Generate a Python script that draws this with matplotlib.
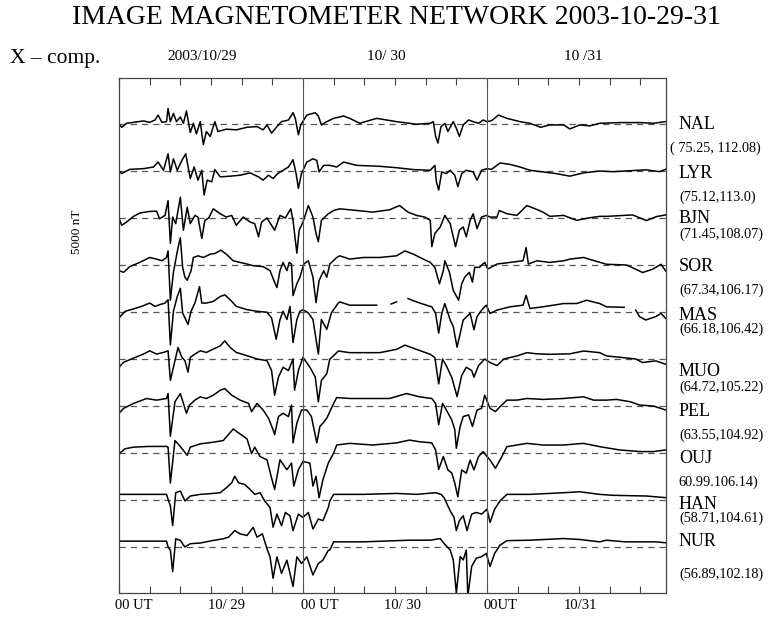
import numpy as np
import matplotlib.pyplot as plt

plt.rcParams['font.family'] = ['Liberation Serif', 'DejaVu Serif']

W, H = 773, 623
nan = float('nan')

stations = ["NAL", "LYR", "BJN", "SOR", "MAS", "MUO", "PEL", "OUJ", "HAN", "NUR"]
station_coords = ["( 75.25, 112.08)", "(75.12,113.0)", "(71.45,108.07)", "(67.34,106.17)",
                  "(66.18,106.42)", "(64.72,105.22)", "(63.55,104.92)", "60.99.106.14)",
                  "(58.71,104.61)", "(56.89,102.18)"]

# X-component deviation (nT) from the quiet level, as (hours since 2003-10-29 00 UT, nT)
nal = [(0, 0), (0.35, -140), (1.0, 30), (1.9, 70), (3.2, 130), (4.0, 70), (4.7, 170), (5.1, 380),
       (5.6, 70), (6.2, 100), (6.4, 660), (6.7, 100), (7.1, 450), (7.5, 100), (8.0, 300), (8.4, 30),
       (8.8, 560), (9.3, -360), (9.7, 30), (10.1, -420), (10.6, 100), (11.0, -880), (11.4, -320),
       (11.9, -530), (12.5, 100), (12.9, -320), (14.0, -220), (15.3, -250), (16.7, -140), (18.0, -110),
       (18.8, -250), (19.3, -40), (19.9, -390), (20.6, -110), (21.2, 100), (22.1, 170), (22.7, 480),
       (23.0, 240), (23.4, -460), (23.7, -40), (24.5, 380), (25.6, 480), (26.0, 340), (26.4, -40),
       (27.1, 100), (28.0, 240), (29.3, 340), (30.1, 240), (31.4, 30), (33.6, 240), (36.2, 100),
       (38.8, -10), (40.6, 30), (41.0, 100), (41.3, -530), (41.6, -810), (42.0, -110), (42.5, 30),
       (42.9, -320), (43.6, 100), (44.0, -180), (44.4, -530), (44.9, -40), (45.6, 170), (46.2, 100),
       (46.9, 30), (47.5, 170), (48.0, 100), (48.6, 140), (49.5, 380), (50.6, 240), (52.3, 100),
       (53.6, 30), (55.0, -140), (56.2, -40), (58.0, -40), (58.8, -210), (60.1, -40), (61.4, -80),
       (62.7, 30), (65.3, 60), (68.0, 60), (69.7, 30), (71.3, 100)]
lyr = [(0, 0), (0.35, -110), (1.4, 70), (3.2, 100), (4.5, 170), (5.1, 380), (5.8, 30), (6.4, 730),
       (6.7, -40), (7.1, 520), (7.6, 30), (8.2, 450), (8.7, 730), (9.3, -320), (9.8, 170), (10.3, -390),
       (10.8, 30), (11.1, -1020), (11.5, -390), (12.1, -460), (12.5, 60), (13.2, -250), (14.5, -220),
       (15.8, -180), (17.1, -80), (18.2, -250), (18.8, -390), (19.5, -180), (20.1, -320), (20.7, -110),
       (21.4, 30), (22.1, 170), (22.7, 480), (23.1, -110), (23.4, -740), (23.8, -110), (24.5, 380),
       (25.3, 520), (25.8, 450), (26.1, -40), (26.7, 240), (27.5, 240), (28.4, 170), (29.3, 380),
       (31.0, 240), (34.0, 200), (36.2, 140), (38.4, 60), (40.6, 30), (41.2, 240), (41.4, -460),
       (41.7, -810), (42.1, -40), (42.7, -110), (43.2, 30), (43.8, -180), (44.2, -670), (44.7, -110),
       (45.3, 30), (46.2, -40), (46.7, -390), (47.3, 30), (48.0, 100), (48.6, 70), (49.7, 340),
       (51.0, 280), (52.3, 170), (53.6, 30), (55.3, -40), (57.0, -110), (58.8, -220), (60.6, -80),
       (62.7, 0), (64.4, -30), (68.8, 50), (70.5, -30), (71.3, 70)]
bjn = [(0, 0), (0.35, -310), (1.0, -170), (1.9, 70), (2.7, 210), (4.0, 280), (4.9, 290), (5.3, -30),
       (6.0, 110), (6.4, 740), (6.7, -1080), (7.0, 40), (7.4, -240), (8.0, 880), (8.4, -520), (8.9, 460),
       (9.3, -240), (9.9, 110), (10.3, 40), (10.8, -870), (11.2, -100), (11.7, 0), (12.3, 390),
       (13.2, 180), (14.0, 40), (14.7, 110), (15.3, -310), (16.2, 40), (17.1, -170), (17.7, -240),
       (18.2, -800), (18.6, -170), (19.3, 0), (19.9, -310), (20.3, -520), (21.0, 110), (21.7, 0),
       (22.4, 390), (22.7, -100), (23.2, -1500), (23.5, -520), (24.0, -170), (24.7, 530), (25.3, 40),
       (25.7, -660), (26.0, -1010), (26.4, -100), (27.3, 180), (28.0, 320), (28.8, 390), (31.0, 320),
       (33.1, 250), (35.3, 350), (36.6, 530), (37.7, 250), (38.8, 110), (39.9, 40), (40.6, -100),
       (40.8, -1220), (41.2, -660), (41.9, -380), (42.5, 110), (43.2, -240), (43.9, -1220),
       (44.4, -520), (44.9, -380), (45.3, -800), (45.8, -100), (46.2, 180), (46.7, -450), (47.3, 40),
       (47.9, 110), (48.4, 40), (49.3, 40), (49.6, 320), (50.6, 180), (51.9, 110), (53.2, 530),
       (54.3, 390), (55.3, 250), (56.2, 70), (58.0, 110), (59.7, -100), (61.4, 10), (62.7, 70),
       (63.6, 70), (67.0, 130), (68.8, -110), (70.1, 60), (71.3, 130)]
sor = [(0, -240), (0.6, -310), (1.4, -70), (2.7, 110), (4.0, 320), (4.9, 250), (5.6, 180), (6.2, 320),
       (6.4, 600), (6.7, -1500), (7.1, -310), (7.7, 740), (8.0, 1160), (8.3, -100), (8.6, -520),
       (8.9, -650), (9.4, -240), (9.7, 320), (10.3, 390), (11.0, 320), (11.9, 460), (12.5, 490),
       (13.3, 630), (14.0, 460), (14.9, 180), (15.8, 110), (16.7, 40), (17.5, -30), (18.8, -70),
       (19.7, -240), (20.2, -660), (20.6, -960), (21.0, -240), (21.4, 110), (21.9, -240), (22.2, 110),
       (22.5, 40), (22.7, -1300), (23.2, -800), (23.6, -520), (24.1, 40), (24.7, 180), (25.3, -520),
       (25.7, -1600), (26.1, -660), (26.7, -240), (27.1, -520), (27.5, 40), (28.4, 320), (28.8, 390),
       (30.1, 250), (31.9, 320), (34.0, 320), (36.2, 390), (37.3, 600), (38.4, 460), (39.7, 250),
       (40.6, 110), (41.2, -100), (41.8, -800), (42.3, -240), (42.5, 180), (43.1, -310), (43.6, -1080),
       (44.3, -1500), (44.7, -800), (45.1, -520), (45.7, -310), (46.1, -730), (46.4, -100),
       (47.0, -100), (47.7, 110), (48.1, -170), (49.3, 40), (51.0, 110), (52.7, 180), (53.1, 740),
       (53.4, 40), (54.5, 180), (56.2, 110), (58.0, 180), (58.8, 250), (60.6, 320), (61.4, 240),
       (63.6, 30), (66.2, 0), (67.4, -180), (68.3, -320), (69.6, -180), (70.7, 30), (71.3, -250)]
mas = [(0, -250), (0.8, 30), (1.9, 130), (3.2, 270), (4.0, 380), (4.7, 240), (5.3, 310), (6.0, 380),
       (6.4, 520), (6.7, -1400), (7.1, 30), (7.6, 660), (8.0, 1010), (8.3, -40), (8.7, -320), (9.0, -530),
       (9.4, 30), (9.9, 380), (10.5, 1080), (10.8, 380), (11.4, 380), (12.3, 450), (13.2, 660),
       (13.8, 730), (14.5, 520), (15.3, 240), (16.7, 100), (18.0, 30), (19.3, -10), (19.9, -250),
       (20.5, -1160), (21.0, -320), (21.4, 30), (21.9, -320), (22.3, 240), (22.7, -1300), (23.2, -320),
       (23.6, 30), (24.0, 100), (24.7, -40), (25.3, -320), (26.0, -1790), (26.4, -320), (27.1, -740),
       (27.7, -40), (28.6, 380), (28.8, 430), (30.1, 290), (31.9, 290), (33.6, 290), (34.5, nan),
       (35.5, 340), (36.2, 430), (37.0, nan), (37.7, 570), (38.8, 430), (40.1, 290), (40.8, 220),
       (41.3, -60), (41.7, -900), (42.1, -60), (42.5, 360), (43.2, -340), (43.6, -620), (44.1, -1500),
       (44.9, -340), (45.8, -60), (46.3, -760), (46.7, -200), (47.3, 80), (47.9, 290), (48.4, -60),
       (49.3, 80), (51.0, 220), (52.7, 290), (53.1, 710), (53.6, 150), (55.3, 220), (58.0, 360),
       (59.7, 360), (61.0, 500), (62.7, 360), (63.6, 220), (65.9, 200), (66.6, nan), (67.4, 80),
       (67.9, -200), (68.7, -340), (70.0, -200), (70.7, -60), (71.3, -270)]
muo = [(0, -350), (0.6, -140), (1.9, 40), (3.2, 210), (4.0, 350), (4.9, 210), (5.8, 280), (6.4, 350),
       (6.7, -910), (7.2, -210), (7.7, 490), (8.2, 70), (8.6, -70), (9.0, -560), (9.3, 70), (9.9, 210),
       (10.6, 350), (11.4, 280), (12.3, 420), (13.2, 560), (13.8, 770), (14.5, 490), (15.3, 280),
       (16.7, 140), (18.0, 0), (19.3, -70), (19.9, -490), (20.3, -1540), (20.8, -770), (21.4, -350),
       (22.1, -490), (22.7, 0), (22.9, -1330), (23.4, -490), (24.0, 70), (24.9, -350), (25.6, -770),
       (26.0, -1820), (26.4, -910), (27.1, -630), (27.5, 0), (28.0, 140), (28.6, 340), (30.1, 270),
       (31.9, 270), (34.0, 270), (36.2, 410), (37.3, 590), (38.8, 410), (40.6, 200), (41.2, 60),
       (41.7, -1060), (42.2, 0), (42.7, -290), (43.4, -780), (44.1, -1600), (44.7, -700), (45.3, -350),
       (46.0, -490), (46.3, -770), (46.9, -280), (47.7, 0), (48.4, -150), (49.3, -280), (50.2, 0),
       (51.9, 130), (53.2, 270), (54.5, 220), (56.2, 200), (58.8, 220), (60.6, 340), (62.7, 270),
       (63.6, 130), (65.7, 60), (67.4, 0), (68.3, -150), (70.0, -80), (71.3, -220)]
pel = [(0, -310), (0.6, -100), (1.9, 110), (3.6, 320), (4.9, 250), (6.2, 320), (6.4, 530), (6.7, -1290),
       (7.3, 180), (8.0, 530), (8.4, 110), (8.8, -310), (9.2, 40), (9.9, 250), (10.6, 390), (11.4, 320),
       (12.3, 460), (13.2, 670), (13.8, 740), (14.7, 460), (15.8, 250), (16.9, 110), (17.3, -240),
       (18.0, 110), (18.8, -170), (19.5, -520), (20.1, -1010), (20.3, -1220), (20.8, -450), (21.4, -310),
       (22.1, -450), (22.5, 40), (22.7, -1570), (23.2, -730), (23.8, -170), (24.5, -170), (25.1, -450),
       (25.8, -1570), (26.2, -870), (26.6, -730), (27.1, -520), (28.0, 110), (28.4, 360), (30.1, 320),
       (32.7, 320), (35.3, 320), (37.5, 530), (39.2, 390), (40.8, 320), (41.3, 110), (41.7, -800),
       (42.2, 110), (42.7, -170), (43.4, -590), (43.8, -1010), (44.0, -1800), (44.5, -870), (44.9, -450),
       (45.6, -380), (46.1, -870), (46.7, -170), (47.3, -100), (47.7, 460), (48.4, -100), (49.1, -240),
       (49.7, -30), (50.6, 250), (51.9, 250), (53.2, 320), (55.3, 280), (58.0, 320), (60.6, 390),
       (61.9, 250), (63.6, 250), (64.9, 280), (66.7, 180), (67.9, 40), (69.7, 0), (71.3, -170)]
ouj = [(0, -30), (0.8, 180), (1.9, 250), (4.0, 280), (6.2, 280), (6.4, 250), (6.7, -1280), (7.3, 530),
       (7.7, 390), (8.4, 110), (8.9, -100), (9.3, 250), (10.6, 390), (12.3, 460), (13.6, 530),
       (14.9, 1020), (15.8, 810), (16.7, 600), (17.3, -30), (17.7, 250), (18.4, -150), (19.3, -290),
       (19.9, -1060), (20.3, -1550), (21.0, -290), (21.9, -710), (22.5, -430), (22.8, -1410),
       (23.4, -710), (24.0, -360), (24.9, -430), (25.3, -1410), (25.7, -990), (26.1, -1900),
       (26.6, -1130), (27.3, -430), (28.0, 0), (28.4, 340), (30.1, 410), (33.1, 340), (36.2, 430),
       (37.9, 550), (39.2, 480), (40.8, 430), (41.3, 130), (41.7, -700), (42.3, -150), (42.9, -720),
       (43.4, -850), (43.8, -1280), (44.2, -1870), (44.7, -720), (45.3, -860), (45.8, -300),
       (46.3, -720), (46.9, -150), (47.5, 60), (48.0, -150), (48.4, -300), (49.1, -650), (49.7, -300),
       (50.6, 270), (51.9, 340), (53.2, 410), (55.3, 340), (58.0, 340), (60.6, 410), (62.7, 270),
       (65.3, 130), (68.0, 60), (69.7, 60), (71.3, 130)]
han = [(0, 240), (6.2, 240), (6.4, 30), (6.7, -250), (7.0, -1090), (7.4, 310), (8.0, 380), (8.6, -40),
       (9.3, 170), (10.6, 240), (11.9, 270), (13.2, 310), (14.0, 520), (14.7, 730), (15.1, 1010),
       (15.6, 730), (16.4, 660), (17.1, 450), (17.7, 240), (18.4, 310), (19.0, -40), (19.7, -320),
       (20.1, -1160), (20.6, -600), (21.2, -1090), (21.7, -530), (22.3, -670), (22.7, -1300),
       (23.4, -600), (24.0, -740), (24.7, -530), (25.3, -1230), (26.0, -810), (26.6, -880),
       (27.3, -320), (27.5, -40), (28.0, 240), (31.9, 240), (36.2, 280), (38.8, 240), (41.3, 310),
       (42.0, 240), (42.4, 100), (43.2, -460), (43.7, -740), (44.0, -1300), (44.4, -880), (44.9, -670),
       (45.4, -1300), (46.0, -600), (46.6, -530), (47.3, -600), (48.0, -390), (48.4, -950),
       (49.0, -390), (49.7, -40), (50.6, 240), (53.6, 240), (58.0, 310), (60.1, 350), (62.7, 240),
       (64.4, 200), (68.8, 170), (71.3, 100)]
nur = [(0, 250), (6.2, 250), (6.4, 0), (6.7, -140), (7.0, -1050), (7.4, 350), (8.0, 280), (8.6, 0),
       (9.3, 140), (10.6, 170), (12.3, 280), (13.6, 350), (14.3, 420), (15.1, 700), (15.8, 560),
       (16.7, 490), (17.5, 840), (18.0, 420), (18.7, 560), (19.3, -70), (19.7, -420), (20.1, -1330),
       (20.6, -420), (21.2, -1120), (21.9, -560), (22.7, -1680), (23.2, -420), (23.8, -700),
       (24.5, -420), (25.3, -1190), (26.0, -700), (26.6, -560), (27.3, -140), (27.5, -130), (28.0, 220),
       (31.9, 220), (36.2, 270), (37.9, 290), (40.6, 290), (41.9, 360), (42.4, 150), (43.2, -130),
       (43.6, -550), (44.0, -1950), (44.5, -410), (44.9, -550), (45.3, -130), (45.5, -2090),
       (46.0, -830), (46.6, -480), (47.3, -410), (47.9, -270), (48.4, -830), (49.0, -270), (49.7, 80),
       (50.6, 270), (53.6, 290), (58.0, 360), (60.1, 320), (62.7, 220), (63.6, 290), (66.0, 220),
       (70.0, 220), (71.3, 180)]

traces = [nal, lyr, bjn, sor, mas, muo, pel, ouj, han, nur]
spacing = 2000  # nT between stacked baselines

top_labels = ["2003/10/29", "10/ 30", "10 /31"]
bottom_labels = ["00 UT", "10/ 29", "00 UT", "10/ 30", "00UT", "10/31"]


def fx(px):
    return px / W


def fy(py):
    return 1 - py / H


fig = plt.figure(figsize=(W / 100, H / 100), dpi=100)
ax = fig.add_axes([fx(119), fy(593), (666 - 119) / W, (593 - 78) / H])

for i, tr in enumerate(traces):
    t, v = np.array(tr, dtype=float).T
    base = -spacing * i
    ax.axhline(base, color='#555555', lw=0.9, ls=(0, (5, 4)), zorder=1)
    ax.plot(t, v + base, color='black', lw=1.1, zorder=2)

for day in (24, 48):
    ax.axvline(day, color='#555555', lw=0.8, zorder=3)

ax.set_xlim(0, 71.35)
ax.set_ylim(-19957, 1957)
ax.set_xticks(np.arange(0, 72, 4))
ax.set_yticks([])
ax.tick_params(axis='x', direction='in', top=True, bottom=True, length=5, width=0.8,
               color='#444444', labelbottom=False)
for sp in ax.spines.values():
    sp.set_color('#444444')
    sp.set_linewidth(0.9)

fig.text(fx(396), fy(24), "IMAGE MAGNETOMETER NETWORK 2003-10-29-31", ha='center', va='baseline', fontsize=20)
fig.text(fx(10), fy(63), "X \u2013 comp.", ha='left', va='baseline', fontsize=15.5)
fig.text(fx(77), fy(232), "5000 nT", rotation=90, ha='center', va='center', fontsize=9.5)

for lab, x in zip(top_labels, [202, 386, 583]):
    fig.text(fx(x), fy(60), lab, ha='center', va='baseline', fontsize=11)
for lab, x in zip(bottom_labels, [134, 226, 320, 403, 500, 580]):
    fig.text(fx(x), fy(609), lab, ha='center', va='baseline', fontsize=10.5)

name_y = [129, 178, 223, 271, 320, 376, 416, 463, 509, 546]
coord_y = [152, 201, 238, 294, 333, 391, 439, 486, 522, 578]
coord_x = [670, 679, 679, 679, 679, 679, 679, 678, 679, 679]
for name, crd, ny, cy, cx in zip(stations, station_coords, name_y, coord_y, coord_x):
    fig.text(fx(679), fy(ny), name, ha='left', va='baseline', fontsize=13)
    fig.text(fx(cx), fy(cy), crd, ha='left', va='baseline', fontsize=10.3)

fig.savefig("out.png", dpi=100)
